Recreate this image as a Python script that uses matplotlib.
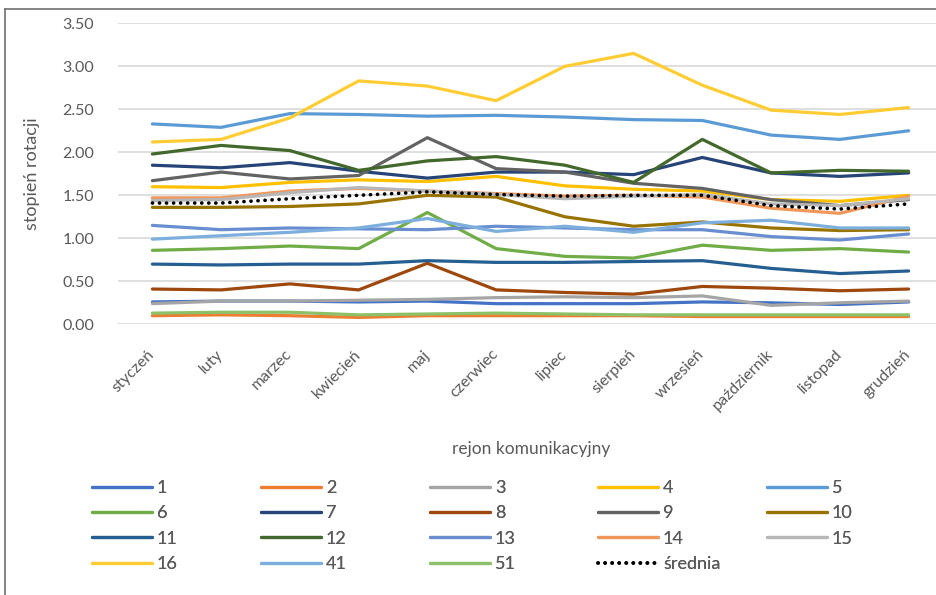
import matplotlib
matplotlib.use("Agg")
import matplotlib.pyplot as plt
from matplotlib.lines import Line2D

plt.rcParams['font.family'] = ['Lato', 'DejaVu Sans']

months = ["styczeń", "luty", "marzec", "kwiecień", "maj", "czerwiec", "lipiec",
          "sierpień", "wrzesień", "październik", "listopad", "grudzień"]

s1 = [0.26, 0.27, 0.27, 0.26, 0.27, 0.24, 0.24, 0.24, 0.26, 0.25, 0.23, 0.26]
s2 = [0.10, 0.11, 0.10, 0.08, 0.10, 0.10, 0.10, 0.10, 0.09, 0.09, 0.09, 0.09]
s3 = [0.24, 0.27, 0.27, 0.28, 0.29, 0.31, 0.32, 0.31, 0.33, 0.22, 0.25, 0.27]
s4 = [1.60, 1.59, 1.65, 1.68, 1.66, 1.72, 1.61, 1.57, 1.55, 1.45, 1.43, 1.50]
s5 = [2.33, 2.29, 2.45, 2.44, 2.42, 2.43, 2.41, 2.38, 2.37, 2.20, 2.15, 2.25]
s6 = [0.86, 0.88, 0.91, 0.88, 1.30, 0.88, 0.79, 0.77, 0.92, 0.86, 0.88, 0.84]
s7 = [1.85, 1.82, 1.88, 1.78, 1.70, 1.77, 1.77, 1.74, 1.94, 1.76, 1.72, 1.76]
s8 = [0.41, 0.40, 0.47, 0.40, 0.71, 0.40, 0.37, 0.35, 0.44, 0.42, 0.39, 0.41]
s9 = [1.67, 1.77, 1.69, 1.73, 2.17, 1.81, 1.77, 1.64, 1.58, 1.45, 1.38, 1.45]
s10 = [1.36, 1.36, 1.37, 1.40, 1.50, 1.48, 1.25, 1.14, 1.19, 1.12, 1.09, 1.10]
s11 = [0.70, 0.69, 0.70, 0.70, 0.74, 0.72, 0.72, 0.73, 0.74, 0.65, 0.59, 0.62]
s12 = [1.98, 2.08, 2.02, 1.79, 1.90, 1.95, 1.85, 1.65, 2.15, 1.76, 1.79, 1.78]
s13 = [1.15, 1.10, 1.12, 1.11, 1.10, 1.14, 1.12, 1.10, 1.10, 1.02, 0.98, 1.05]
s14 = [1.47, 1.47, 1.55, 1.58, 1.55, 1.52, 1.49, 1.50, 1.48, 1.35, 1.29, 1.49]
s15 = [1.44, 1.45, 1.53, 1.59, 1.55, 1.51, 1.46, 1.49, 1.51, 1.40, 1.38, 1.46]
s16 = [2.12, 2.15, 2.40, 2.83, 2.77, 2.60, 3.00, 3.15, 2.78, 2.49, 2.44, 2.52]
s41 = [0.99, 1.03, 1.07, 1.12, 1.23, 1.08, 1.14, 1.07, 1.18, 1.21, 1.12, 1.12]
s51 = [0.13, 0.14, 0.14, 0.11, 0.12, 0.13, 0.12, 0.11, 0.11, 0.11, 0.11, 0.11]
srednia = [1.41, 1.41, 1.46, 1.50, 1.54, 1.51, 1.49, 1.50, 1.50, 1.38, 1.34, 1.40]

series_names = ["1", "2", "3", "4", "5", "6", "7", "8", "9", "10",
                "11", "12", "13", "14", "15", "16", "41", "51"]
series_values = [s1, s2, s3, s4, s5, s6, s7, s8, s9, s10,
                 s11, s12, s13, s14, s15, s16, s41, s51]
colors = ["#4472C4", "#ED7D31", "#A5A5A5", "#FFC000", "#5B9BD5", "#70AD47",
          "#264478", "#9E480E", "#636363", "#997300", "#255E91", "#43682B",
          "#698ED0", "#F1975A", "#B7B7B7", "#FFCD33", "#7CAFDD", "#8CC168"]

W, H = 937, 595
fig = plt.figure(figsize=(W / 100, H / 100), dpi=100)
ax_left, ax_right, ax_top, ax_bottom = 118, 943, 23.3, 324.3
ax = fig.add_axes([ax_left / W, 1 - ax_bottom / H, (ax_right - ax_left) / W, (ax_bottom - ax_top) / H])

x = list(range(len(months)))
handles = []
for name, vals, c in zip(series_names, series_values, colors):
    ln, = ax.plot(x, vals, color=c, lw=2.3, solid_capstyle='round', solid_joinstyle='round',
                  label=name, clip_on=False)
    handles.append(ln)
avg, = ax.plot(x, srednia, color='black', lw=2.6, linestyle=(0, (0.05, 1.9)), dash_capstyle='round',
               label='średnia', clip_on=False)
handles.append(avg)

ax.set_xlim(-0.5, 11.5)
ax.set_ylim(0, 3.5)
ax.set_yticks([i * 0.5 for i in range(8)])
ax.set_yticklabels([f"{i * 0.5:.2f}" for i in range(8)])
ax.set_xticks(x)
ax.set_xticklabels(months, rotation=45, ha='right', rotation_mode='anchor', va='center')
ax.tick_params(axis='both', length=0, labelsize=11.5, labelcolor='#595959')
ax.tick_params(axis='y', pad=17)
ax.tick_params(axis='x', pad=20)
ax.grid(axis='y', color='#D9D9D9', lw=1.2)
ax.set_axisbelow(True)
for sp in ax.spines.values():
    sp.set_visible(False)

ax.set_ylabel("stopień rotacji", fontsize=13, color='#595959')
ax.yaxis.set_label_coords((40 - ax_left) / (ax_right - ax_left), 0.5)
ax.set_xlabel("rejon komunikacyjny", fontsize=12.5, color='#595959')
ax.xaxis.set_label_coords((531 - ax_left) / (ax_right - ax_left), (ax_bottom - 449) / (ax_bottom - ax_top))
ax.xaxis.label.set_va('center')

# legend: 5 columns, row-major order
col_x = [92, 261, 430, 598, 767]
for k in range(5):
    hs = [handles[i] for i in range(k, len(handles), 5)]
    leg = fig.legend(handles=hs, labels=[h.get_label() for h in hs], loc='upper left',
                     bbox_to_anchor=(col_x[k] / W, 1 - 480 / H), frameon=False, fontsize=13,
                     handlelength=3.3, handletextpad=0.3, labelspacing=0.52, borderpad=0,
                     borderaxespad=0, labelcolor='#595959')
    fig.add_artist(leg)

# outer border (partial, as in reference)
fig.add_artist(Line2D([5 / W, 5 / W], [0, 1 - 9 / H], color='#707070', lw=1.2, transform=fig.transFigure))
fig.add_artist(Line2D([5 / W, 1], [1 - 9 / H, 1 - 9 / H], color='#707070', lw=1.2, transform=fig.transFigure))

fig.savefig("out.png", dpi=100)
